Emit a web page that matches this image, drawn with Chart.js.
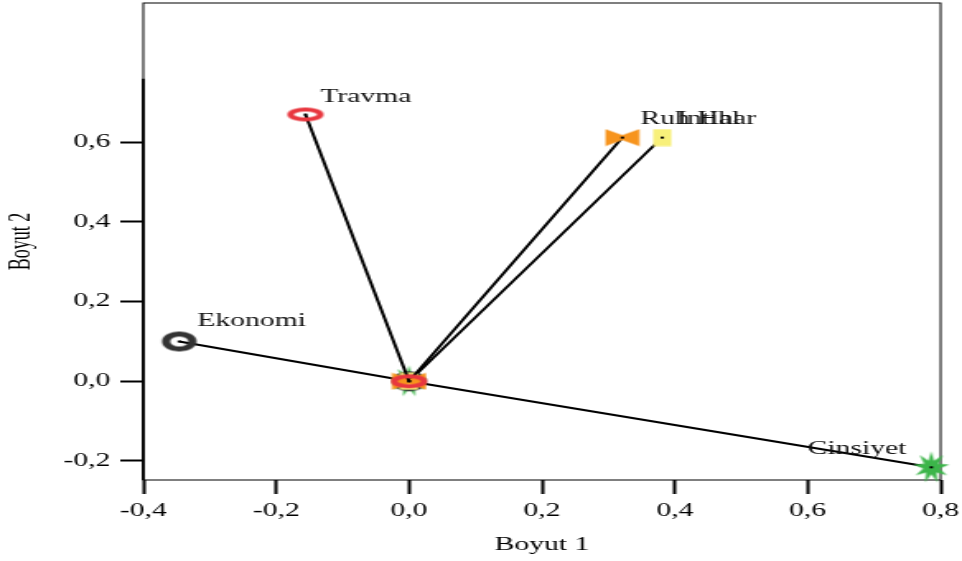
<!DOCTYPE html>
<html>
<head>
<meta charset="utf-8">
<script src="https://cdn.jsdelivr.net/npm/chart.js@4/dist/chart.umd.min.js"></script>
<style>
  body { margin: 0; background: #fff; }
</style>
</head>
<body>
<!-- the reference is stretched sideways, so the canvas is drawn narrow and widened by CSS -->
<canvas id="chart" width="584" height="561" style="display:block;width:962px;height:561px"></canvas>
<script>
const categories = ["Travma", "Ruh Hal", "Intihar", "Ekonomi", "Cinsiyet"]
const dim1 = [-0.156, 0.321, 0.381, -0.346, 0.786]
const dim2 = [0.670, 0.612, 0.612, 0.100, -0.216]
const xTicks = [-0.4, -0.2, 0.0, 0.2, 0.4, 0.6, 0.8]
const yTicks = [-0.2, 0.0, 0.2, 0.4, 0.6]

const fmt = (v) => (Math.abs(v) < 1e-9 ? 0 : v).toFixed(1).replace(".", ",")

function makeMarker(w, h, paint) {
  const c = document.createElement("canvas")
  c.width = w
  c.height = h
  const ctx = c.getContext("2d")
  paint(ctx, w / 2, h / 2)
  // small black dot at the vector end
  ctx.fillStyle = "#000"
  ctx.fillRect(w / 2 - 1, h / 2 - 1, 2, 2)
  return c
}

const markers = {
  "Travma": makeMarker(24, 16, (ctx, cx, cy) => {
    ctx.strokeStyle = "#e8373f"
    ctx.lineWidth = 4
    ctx.beginPath()
    ctx.ellipse(cx, cy, 9, 5, 0, 0, Math.PI * 2)
    ctx.stroke()
  }),
  "Ekonomi": makeMarker(24, 24, (ctx, cx, cy) => {
    ctx.strokeStyle = "#333333"
    ctx.lineWidth = 5
    ctx.beginPath()
    ctx.ellipse(cx, cy, 8, 7.5, 0, 0, Math.PI * 2)
    ctx.stroke()
  }),
  "Ruh Hal": makeMarker(22, 18, (ctx, cx, cy) => {
    ctx.fillStyle = "#f7941d"
    ctx.beginPath()
    ctx.moveTo(cx - 10.3, cy - 8.5)
    ctx.lineTo(cx, cy - 2.5)
    ctx.lineTo(cx + 10.3, cy - 8.5)
    ctx.lineTo(cx + 10.3, cy + 8.5)
    ctx.lineTo(cx, cy + 2.5)
    ctx.lineTo(cx - 10.3, cy + 8.5)
    ctx.closePath()
    ctx.fill()
  }),
  "Intihar": makeMarker(12, 18, (ctx, cx, cy) => {
    ctx.fillStyle = "#f8f07a"
    ctx.fillRect(cx - 5.5, cy - 8.5, 11, 17)
  }),
  "Cinsiyet": makeMarker(26, 34, (ctx, cx, cy) => {
    ctx.fillStyle = "#3cb54a"
    ctx.beginPath()
    const n = 9
    for (let i = 0; i < n * 2; i++) {
      const a = (Math.PI * i) / n - Math.PI / 2
      const rx = i % 2 === 0 ? 11 : 5
      const ry = i % 2 === 0 ? 16 : 7
      const px = cx + rx * Math.cos(a)
      const py = cy + ry * Math.sin(a)
      if (i === 0) ctx.moveTo(px, py)
      else ctx.lineTo(px, py)
    }
    ctx.closePath()
    ctx.fill()
  }),
}

// label placement relative to the marker (internal canvas px)
const labelPlace = {
  "Travma": { dx: 9, dy: -17, align: "left" },
  "Ruh Hal": { dx: 11, dy: -18, align: "left" },
  "Intihar": { dx: 9, dy: -18, align: "left" },
  "Ekonomi": { dx: 11, dy: -20, align: "left" },
  "Cinsiyet": { dx: -15, dy: -18, align: "right" },
}

const datasets = categories.map((name, i) => ({
  label: name,
  data: [
    { x: 0, y: 0 },
    { x: dim1[i], y: dim2[i] },
  ],
  showLine: true,
  borderColor: "#000",
  borderWidth: 2,
  pointStyle: markers[name],
  pointRadius: 8,
  clip: false,
}))

const decor = {
  id: "decor",
  beforeDatasetsDraw(chart) {
    const { ctx, chartArea: a, scales } = chart
    ctx.save()
    ctx.strokeStyle = "#000"
    ctx.lineWidth = 1
    ctx.strokeRect(a.left, a.top, a.right - a.left, a.bottom - a.top)
    ctx.lineWidth = 1.8
    ctx.beginPath()
    ctx.moveTo(a.left, scales.y.getPixelForValue(0.76))
    ctx.lineTo(a.left, a.bottom)
    ctx.stroke()
    ctx.restore()
  },
  afterDatasetsDraw(chart) {
    const { ctx, scales } = chart
    ctx.save()
    ctx.font = "18px 'Liberation Serif'"
    ctx.fillStyle = "#111"
    ctx.textBaseline = "middle"
    categories.forEach((name, i) => {
      const p = labelPlace[name]
      ctx.textAlign = p.align
      ctx.fillText(
        name,
        scales.x.getPixelForValue(dim1[i]) + p.dx,
        scales.y.getPixelForValue(dim2[i]) + p.dy
      )
    })
    ctx.restore()
  },
}

const font = { family: "'Liberation Serif'", size: 18 }

new Chart(document.getElementById("chart"), {
  type: "scatter",
  data: { datasets },
  options: {
    responsive: false,
    animation: false,
    devicePixelRatio: 1,
    layout: { autoPadding: false, padding: { top: 3, right: 13, left: 0, bottom: 0 } },
    plugins: {
      legend: { display: false },
      tooltip: { enabled: false },
    },
    scales: {
      x: {
        type: "linear",
        min: -0.4,
        max: 0.8,
        afterBuildTicks: (s) => { s.ticks = xTicks.map((v) => ({ value: v })) },
        afterFit: (s) => { s.height = 81; s.paddingLeft = 0; s.paddingRight = 0 },
        border: { display: false },
        grid: { drawOnChartArea: false, drawTicks: true, tickLength: 14, tickWidth: 2, tickColor: "#000" },
        ticks: { font, color: "#000", padding: 6, maxRotation: 0, callback: (v) => fmt(v) },
        title: { display: true, text: "Boyut 1", font, color: "#000", padding: { top: 0, bottom: 5 } },
      },
      y: {
        type: "linear",
        min: -0.248,
        max: 0.95,
        afterBuildTicks: (s) => { s.ticks = yTicks.map((v) => ({ value: v })) },
        afterFit: (s) => { s.width = 87; s.paddingTop = 0; s.paddingBottom = 0 },
        border: { display: false },
        grid: { drawOnChartArea: false, drawTicks: true, tickLength: 14, tickWidth: 2, tickColor: "#000" },
        ticks: { font, color: "#000", padding: 6, callback: (v) => fmt(v) },
        title: { display: true, text: "Boyut 2", font, color: "#000", padding: { top: 2, bottom: 0 } },
      },
    },
  },
  plugins: [decor],
})
</script>
</body>
</html>
